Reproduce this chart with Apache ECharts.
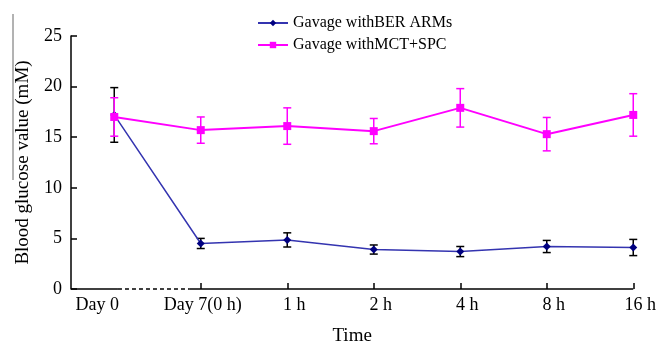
<!DOCTYPE html>
<html>
<head>
<meta charset="utf-8">
<script src="https://cdn.jsdelivr.net/npm/echarts@6/dist/echarts.min.js"></script>
<style>html,body{margin:0;padding:0;background:#fff;}#c{width:659px;height:351px;}</style>
</head>
<body>
<div id="c"></div>
<script>
var categories = ['Day 0', 'Day 7(0 h)', '1 h', '2 h', '4 h', '8 h', '16 h'];
var berMean = [17.2, 4.5, 4.85, 3.9, 3.7, 4.2, 4.1];
var berSD   = [2.7, 0.5, 0.7, 0.45, 0.5, 0.6, 0.8];
var mctMean = [17.0, 15.7, 16.1, 15.6, 17.9, 15.3, 17.2];
var mctSD   = [1.9, 1.3, 1.8, 1.25, 1.9, 1.65, 2.1];
var yTicks = [0, 5, 10, 15, 20, 25];
var seriesNames = ['Gavage withBER ARMs', 'Gavage withMCT+SPC'];

var FONT = 'Liberation Serif';
function pts(m) { return m.map(function (v, i) { return [i, v]; }); }
function errs(m, s) { return m.map(function (v, i) { return [i, v, s[i]]; }); }
function errRender(color) {
  return function (params, api) {
    var x = api.value(0), m = api.value(1), s = api.value(2);
    var top = api.coord([x, m + s]);
    var bot = api.coord([x, m - s]);
    var w = 4;
    var st = { stroke: color, lineWidth: 1.5 };
    return {
      type: 'group',
      children: [
        { type: 'line', shape: { x1: top[0], y1: top[1], x2: bot[0], y2: bot[1] }, style: st },
        { type: 'line', shape: { x1: top[0] - w, y1: top[1], x2: top[0] + w, y2: top[1] }, style: st },
        { type: 'line', shape: { x1: bot[0] - w, y1: bot[1], x2: bot[0] + w, y2: bot[1] }, style: st }
      ]
    };
  };
}

var chart = echarts.init(document.getElementById('c'));
chart.setOption({
  animation: false,
  backgroundColor: '#fff',
  grid: { left: 71, right: 25, top: 36, bottom: 53 },
  legend: {
    data: seriesNames,
    orient: 'vertical',
    left: 252,
    top: 10,
    itemWidth: 30,
    itemHeight: 8,
    itemGap: 6,
    textStyle: { fontFamily: FONT, fontSize: 16, color: '#000' }
  },
  graphic: [
    { type: 'line', shape: { x1: 13, y1: 14, x2: 13, y2: 180 }, style: { stroke: '#666', lineWidth: 1 } }
  ],
  xAxis: {
    type: 'value',
    min: -0.5,
    max: 6,
    name: 'Time',
    nameLocation: 'middle',
    nameGap: 38,
    nameTextStyle: { fontFamily: FONT, fontSize: 19, color: '#000' },
    splitLine: { show: false },
    axisLine: { show: false },
    axisTick: { show: true, customValues: [1, 2, 3, 4, 5, 6], length: 6, inside: true, lineStyle: { color: '#000', width: 1.5 } },
    axisLabel: {
      customValues: [0, 1, 2, 3, 4, 5, 6],
      margin: 7,
      formatter: function (v) {
        var i = Math.round(v);
        if (i === 0) return '{a|' + categories[i] + '}';
        if (i === 1) return '{c|' + categories[i] + '}';
        return '{b|' + categories[i] + '}';
      },
      rich: {
        a: { fontFamily: FONT, fontSize: 18, color: '#000', padding: [0, 34, 0, 0] },
        b: { fontFamily: FONT, fontSize: 18, color: '#000', padding: [0, 0, 0, 14] },
        c: { fontFamily: FONT, fontSize: 18, color: '#000', padding: [0, 0, 0, 4] }
      }
    }
  },
  yAxis: {
    type: 'value',
    min: 0,
    max: 25,
    interval: 5,
    name: 'Blood glucose value (mM)',
    nameLocation: 'middle',
    nameGap: 38,
    nameTextStyle: { fontFamily: FONT, fontSize: 19, color: '#000' },
    splitLine: { show: false },
    axisLine: { show: true, onZero: false, lineStyle: { color: '#000', width: 1.5 } },
    axisTick: { show: true, inside: true, length: 6, lineStyle: { color: '#000', width: 1.5 } },
    axisLabel: {
      margin: 9,
      fontFamily: FONT, fontSize: 18, color: '#000',
      customValues: yTicks
    }
  },
  series: [
    {
      type: 'custom',
      name: 'berErr',
      renderItem: errRender('#000'),
      data: errs(berMean, berSD),
      z: 2,
      silent: true
    },
    {
      type: 'line',
      name: seriesNames[0],
      data: pts(berMean),
      symbol: 'diamond',
      symbolSize: 8,
      lineStyle: { color: '#3434B0', width: 1.5 },
      itemStyle: { color: '#000080' },
      z: 3,
      markLine: {
        silent: true,
        symbol: 'none',
        label: { show: false },
        animation: false,
        data: [
          [{ coord: [-0.5, 0], lineStyle: { color: '#000', width: 1.5, type: 'solid' } }, { coord: [0.043, 0] }],
          [{ coord: [0.043, 0], lineStyle: { color: '#000', width: 1.5, type: [4, 3] } }, { coord: [0.874, 0] }],
          [{ coord: [0.874, 0], lineStyle: { color: '#000', width: 1.5, type: 'solid' } }, { coord: [6, 0] }]
        ]
      }
    },
    {
      type: 'custom',
      name: 'mctErr',
      renderItem: errRender('#FF00FF'),
      data: errs(mctMean, mctSD),
      z: 4,
      silent: true
    },
    {
      type: 'line',
      name: seriesNames[1],
      data: pts(mctMean),
      symbol: 'rect',
      symbolSize: 8,
      lineStyle: { color: '#FF00FF', width: 2 },
      itemStyle: { color: '#FF00FF' },
      z: 5
    }
  ]
});
</script>
</body>
</html>
